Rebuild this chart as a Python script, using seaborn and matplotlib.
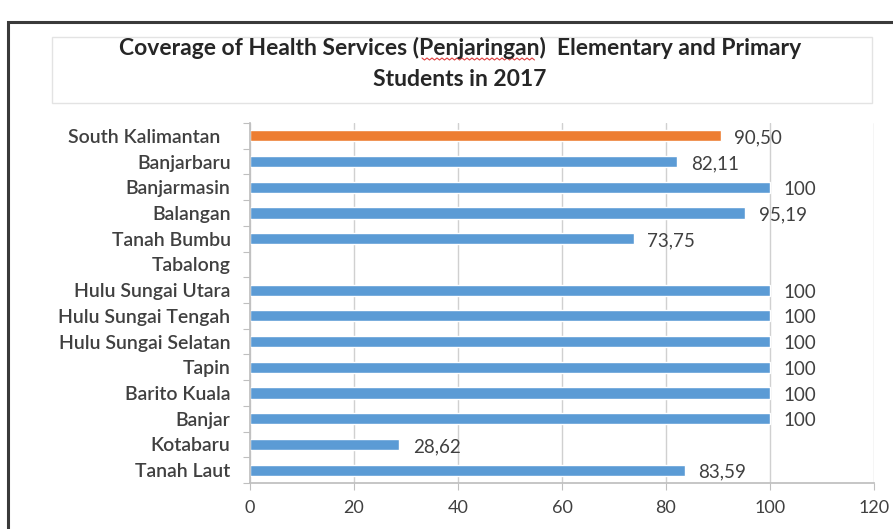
import numpy as np
import pandas as pd
import matplotlib
matplotlib.use("Agg")
import matplotlib.pyplot as plt
from matplotlib.patches import Rectangle
from matplotlib.lines import Line2D
from matplotlib.ticker import FixedLocator
import seaborn as sns

regions = ["South Kalimantan", "Banjarbaru", "Banjarmasin", "Balangan", "Tanah Bumbu",
           "Tabalong", "Hulu Sungai Utara", "Hulu Sungai Tengah", "Hulu Sungai Selatan",
           "Tapin", "Barito Kuala", "Banjar", "Kotabaru", "Tanah Laut"]
coverage = [90.50, 82.11, 100, 95.19, 73.75, np.nan, 100, 100, 100, 100, 100, 100, 28.62, 83.59]
group = ["Province"] + ["District"] * 13
x_ticks = [0, 20, 40, 60, 80, 100, 120]

df = pd.DataFrame({"region": regions, "coverage": coverage, "group": group})

sns.set_theme(style="white")
plt.rcParams["font.family"] = ["Lato", "DejaVu Sans"]

TEXT = "#404040"
BLUE = "#5B9BD5"
ORANGE = "#ED7D31"
W, H = 893, 529

fig = plt.figure(figsize=(W / 100, H / 100), dpi=100)
fig.patch.set_facecolor("white")

# outer chart frame
fig.add_artist(Rectangle((8 / W, -0.05), 1.0, 1 - 22 / H + 0.05, transform=fig.transFigure,
                         fill=False, edgecolor="#3a3a3a", linewidth=2.2))
# title box
fig.add_artist(Rectangle((52 / W, 1 - 103 / H), (872 - 52) / W, 66 / H,
                         transform=fig.transFigure, fill=False, edgecolor="#e3e3e3", linewidth=1))
fig.text(460 / W, 1 - 48 / H, "Coverage of Health Services (Penjaringan)  Elementary and Primary",
         ha="center", va="center", fontsize=16.5, fontweight="bold", color="#262626")
fig.text(460 / W, 1 - 80 / H, "Students in 2017",
         ha="center", va="center", fontsize=16.5, fontweight="bold", color="#262626")

# spell-check squiggle under "Penjaringan"
sq_x = np.arange(422, 536, 2.5)
sq_y = 59 + np.where(np.arange(len(sq_x)) % 2 == 0, -1.0, 1.0)
fig.add_artist(Line2D(sq_x / W, 1 - sq_y / H, transform=fig.transFigure,
                      color="#e04040", linewidth=0.8))

ax = fig.add_axes([250 / W, 1 - 483 / H, (874 - 250) / W, (483 - 123) / H])
sns.barplot(data=df, y="region", x="coverage", hue="group", order=regions,
            palette={"Province": ORANGE, "District": BLUE}, orient="h", width=0.43,
            dodge=False, legend=False, ax=ax, saturation=1)

ax.set_xlim(0, 120)
ax.set_ylim(13.5, -0.5)
ax.set_xticks(x_ticks)
ax.set_xticklabels([str(t) for t in x_ticks], fontsize=13, color=TEXT)
ax.set_yticks(range(len(regions)))
ax.set_yticklabels([r + "  " if r == "South Kalimantan" else r for r in regions],
                   fontsize=14, color=TEXT, fontweight=600)
ax.set_xlabel("")
ax.set_ylabel("")
ax.tick_params(axis="y", length=0, pad=14)
ax.tick_params(axis="x", length=5, width=0.8, color="#bfbfbf", pad=7, direction="out", bottom=True)
ax.yaxis.set_minor_locator(FixedLocator(np.arange(-0.5, 14, 1)))
ax.tick_params(axis="y", which="minor", length=5, width=0.8, color="#bfbfbf", left=True)

ax.grid(axis="x", color="#d0d0d0", linewidth=1)
ax.set_axisbelow(True)
for side in ["top", "right"]:
    ax.spines[side].set_visible(False)
ax.spines["left"].set_color("#bfbfbf")
ax.spines["bottom"].set_color("#bfbfbf")

for i, v in enumerate(coverage):
    if np.isnan(v):
        continue
    txt = f"{v:.2f}".replace(".", ",") if v != 100 else "100"
    ax.annotate(txt, (v, i), xytext=(10, -1.5), textcoords="offset points",
                ha="left", va="center", fontsize=13.5, color=TEXT)

fig.savefig("out.png", dpi=100, facecolor="white")
